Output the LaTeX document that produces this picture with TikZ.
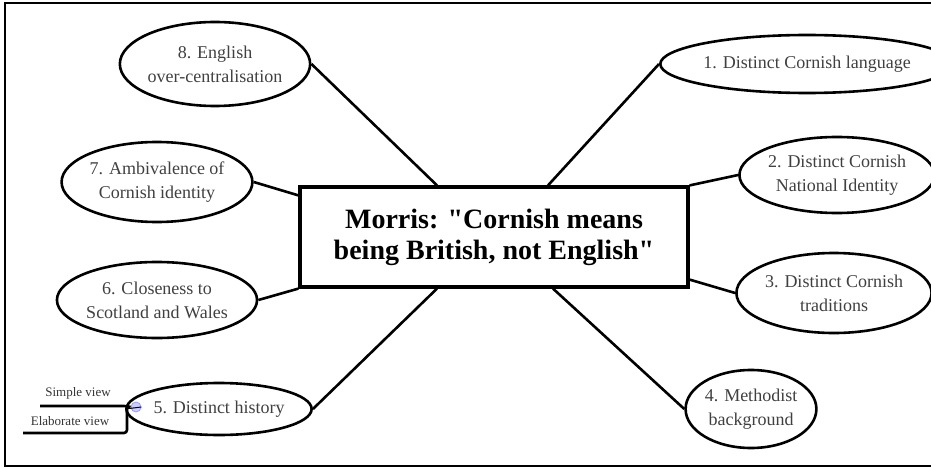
\documentclass[tikz,border=0pt]{standalone}
\usepackage{fontspec}
\setmainfont{Liberation Serif}[Ligatures=TeXOff]
\usetikzlibrary{shapes.geometric}

\begin{document}
\begin{tikzpicture}[x=1pt,y=-1pt,line width=2.6pt,
  idea/.style = {draw, ellipse, inner sep=0pt, align=center, text=black!75,
                 font=\fontsize{18}{24}\selectfont},
  hub/.style = {draw, rectangle, line width=3.2pt, inner sep=0pt, align=center,
                minimum width=388pt, minimum height=100pt,
                font=\fontsize{28}{31}\selectfont\bfseries},
  view/.style = {inner sep=0pt, text=black!80, font=\fontsize{13}{15}\selectfont}]
\useasboundingbox (0,0) rectangle (931,468);
\draw[line width=2pt] (931,3) -- (5,3) -- (5,466) -- (931,466);

\node[hub] (centre) at (494,237) {Morris: "Cornish means\\being British, not English"};

\node[idea,minimum width=230pt,minimum height=58pt] (e1) at (807,64) {1. Distinct Cornish language};
\node[idea,minimum width=180pt,minimum height=76pt] (e2) at (837,175) {2. Distinct Cornish\\National Identity};
\node[idea,minimum width=172pt,minimum height=80pt] (e3) at (834,293) {3. Distinct Cornish\\traditions};
\node[idea,minimum width=122pt,minimum height=78pt] (e4) at (751,409) {4. Methodist\\background};
\node[idea,minimum width=152pt,minimum height=52pt] (e5) at (219,409) {5. Distinct history};
\node[idea,minimum width=170pt,minimum height=76pt] (e6) at (157,300) {6. Closeness to\\Scotland and Wales};
\node[idea,minimum width=166pt,minimum height=80pt] (e7) at (157,182) {7. Ambivalence of\\Cornish identity};
\node[idea,minimum width=166pt,minimum height=84pt] (e8) at (215,64) {8. English\\over-centralisation};

\draw (e1.west) -- ([xshift=54pt]centre.north);
\draw (e2.west) -- (centre.north east);
\draw (e3.west) -- ([yshift=9pt]centre.south east);
\draw (e4.west) -- ([xshift=59pt]centre.south);
\draw (e5.east) -- ([xshift=-57pt]centre.south);
\draw (e6.east) -- (centre.south west);
\draw (e7.east) -- ([yshift=-10pt]centre.north west);
\draw (e8.east) -- ([xshift=-57pt]centre.north);

% collapsed branch of 5
\coordinate (fork) at (127,406);
\coordinate (simpleEnd) at (40,406);
\coordinate (elabEnd) at (23,433);
\node[circle,draw=blue!40,fill=blue!20,line width=0.8pt,minimum size=10pt,inner sep=0pt] (tog) at (136,407) {};
\draw[line width=1pt] (tog.east) -- (e5.west);
\draw[rounded corners=3pt] (tog.west) -- (fork) -- (simpleEnd);
\draw[rounded corners=3pt] (fork) |- (elabEnd);
\node[view] (simple) at (78,393) {Simple view};
\node[view] (elab) at (70,421) {Elaborate view};
\end{tikzpicture}
\end{document}
